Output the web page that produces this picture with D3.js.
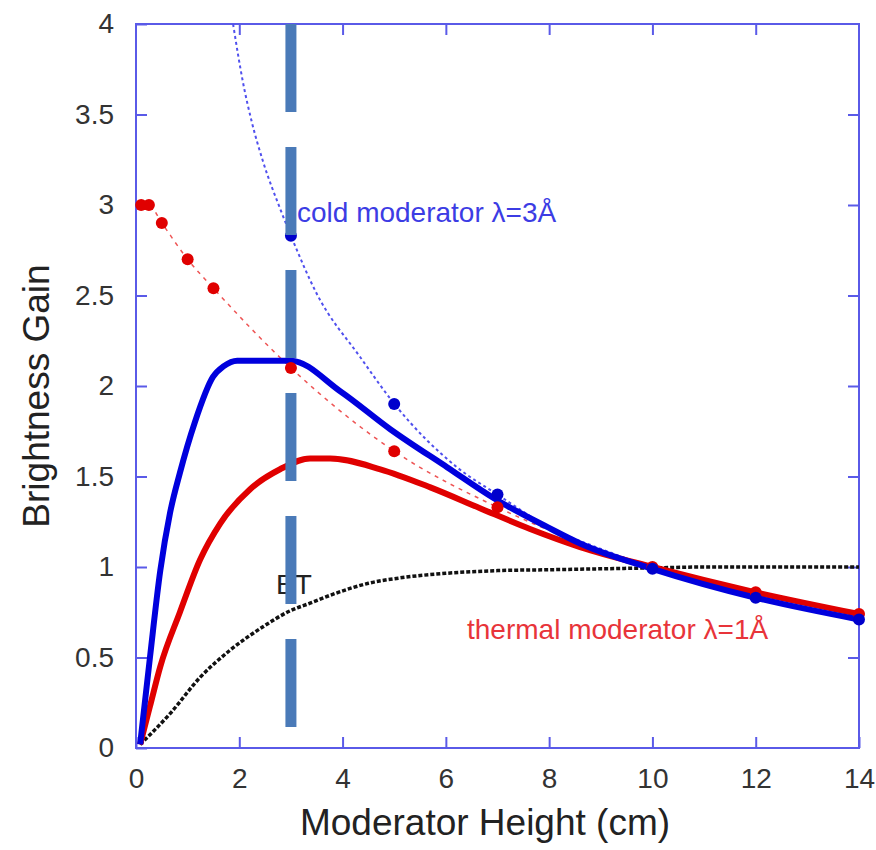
<!DOCTYPE html>
<html>
  <head>
    <meta charset="utf-8">
    <script src="https://d3js.org/d3.v7.min.js"></script>
    <style>
      body { margin: 0; background: #fff; }
      svg text { font-family: "Liberation Sans", Arial, sans-serif; }
      .axis path { display: none; }
      .axis line { stroke: #5a5ae8; stroke-width: 2; }
      .axis text { fill: #333; font-size: 28px; }
    </style>
  </head>
<body>
  <script type="text/javascript">
    // cold moderator brightness gain (thick blue)
    var coldX = [0.08, 0.27, 0.47, 0.66, 0.85, 1.14, 1.49, 1.7, 1.96, 2.5, 3.0, 3.96, 4.93, 6.03, 6.93, 7.97, 8.6, 10, 12, 14];
    var coldY = [0.02, 0.50, 0.98, 1.30, 1.52, 1.80, 2.05, 2.11, 2.14, 2.14, 2.14, 1.97, 1.76, 1.55, 1.38, 1.22, 1.13, 0.99, 0.83, 0.71];
    // thermal moderator brightness gain (thick red)
    var thermX = [0.08, 0.27, 0.47, 0.85, 1.24, 1.63, 2.21, 2.79, 3.37, 3.76, 4.73, 5.7, 6.66, 7.63, 8.6, 10, 12, 14];
    var thermY = [0.02, 0.23, 0.45, 0.75, 1.04, 1.24, 1.43, 1.54, 1.60, 1.60, 1.54, 1.44, 1.325, 1.21, 1.11, 1.00, 0.86, 0.74];
    // BT curve (black dotted)
    var btX = [0.08, 0.66, 1.24, 1.82, 2.46, 3.0, 3.37, 3.82, 4.5, 5.12, 6, 7, 8, 9, 10, 11, 12, 14];
    var btY = [0.02, 0.19, 0.39, 0.54, 0.67, 0.76, 0.80, 0.85, 0.91, 0.94, 0.965, 0.98, 0.985, 0.99, 0.995, 1.0, 1.0, 1.0];
    // thermal points and fit (red dots / dashed)
    var thermPtX = [0.1, 0.25, 0.5, 1, 1.5, 3, 5, 7, 10, 12, 14];
    var thermPtY = [3.0, 3.0, 2.9, 2.7, 2.54, 2.10, 1.64, 1.33, 1.0, 0.86, 0.74];
    // cold points (blue dots) and fit (blue dotted)
    var coldPtX = [3, 5, 7, 10, 12, 14];
    var coldPtY = [2.83, 1.90, 1.40, 0.99, 0.83, 0.71];
    var coldFitX = [1.88, 2.07, 2.25, 2.46, 2.79, 3, 3.5, 4.34, 5.02, 6.22, 7, 8, 9, 10, 11, 12, 13, 14];
    var coldFitY = [4.0, 3.68, 3.45, 3.24, 2.98, 2.83, 2.51, 2.16, 1.895, 1.55, 1.40, 1.22, 1.10, 1.00, 0.92, 0.84, 0.77, 0.71];
    // marker at 3 cm
    var markX = 3;

    var xTicks = [0, 2, 4, 6, 8, 10, 12, 14];
    var yTicks = [0, 0.5, 1, 1.5, 2, 2.5, 3, 3.5, 4];

    function draw() {
      var width = 876, height = 850;
      var pl = 136, pr = 859, pt = 24, pb = 748;

      var svg = d3.select("body").append("svg")
        .attr("width", width)
        .attr("height", height);

      var x = d3.scaleLinear().domain([0, 14]).range([pl, pr]);
      var y = d3.scaleLinear().domain([0, 4]).range([pb, pt]);

      function pts(xs, ys) {
        return xs.map(function(v, i) { return [v, ys[i]]; });
      }
      var line = d3.line()
        .x(function(d) { return x(d[0]); })
        .y(function(d) { return y(d[1]); })
        .curve(d3.curveMonotoneX);

      // axes, ticks pointing inward on all four sides
      var tickLen = 11;
      svg.append("g").attr("class", "axis")
        .attr("transform", "translate(0," + pb + ")")
        .call(d3.axisBottom(x).tickValues(xTicks).tickSize(-tickLen).tickPadding(20).tickFormat(d3.format("d")));
      svg.append("g").attr("class", "axis")
        .attr("transform", "translate(0," + pt + ")")
        .call(d3.axisTop(x).tickValues(xTicks.slice(1, -1)).tickSize(-tickLen).tickFormat(""));
      svg.append("g").attr("class", "axis")
        .attr("transform", "translate(" + pl + ",0)")
        .call(d3.axisLeft(y).tickValues(yTicks).tickSize(-tickLen).tickPadding(22).tickFormat(d3.format("")));
      svg.append("g").attr("class", "axis")
        .attr("transform", "translate(" + pr + ",0)")
        .call(d3.axisRight(y).tickValues(yTicks.slice(1, -1)).tickSize(-tickLen).tickFormat(""));

      svg.append("rect")
        .attr("x", pl).attr("y", pt)
        .attr("width", pr - pl).attr("height", pb - pt)
        .attr("fill", "none")
        .attr("stroke", "#5a5ae8")
        .attr("stroke-width", 2);

      // fits and curves
      svg.append("path").attr("d", line(pts(btX, btY)))
        .attr("fill", "none").attr("stroke", "#111").attr("stroke-width", 3.5)
        .attr("stroke-dasharray", "4,2");
      svg.append("path").attr("d", line(pts(thermPtX, thermPtY)))
        .attr("fill", "none").attr("stroke", "#ee5555").attr("stroke-width", 1.5)
        .attr("stroke-dasharray", "4,5");
      svg.append("path").attr("d", line(pts(coldFitX, coldFitY)))
        .attr("fill", "none").attr("stroke", "#5050ee").attr("stroke-width", 2)
        .attr("stroke-dasharray", "3,3");
      svg.append("path").attr("d", line(pts(thermX, thermY)))
        .attr("fill", "none").attr("stroke", "#e00000").attr("stroke-width", 6)
        .attr("stroke-linejoin", "round");
      svg.append("path").attr("d", line(pts(coldX, coldY)))
        .attr("fill", "none").attr("stroke", "#0000dd").attr("stroke-width", 6)
        .attr("stroke-linejoin", "round");

      svg.append("g").selectAll("circle")
        .data(pts(thermPtX, thermPtY))
        .enter().append("circle")
        .attr("cx", function(d) { return x(d[0]); })
        .attr("cy", function(d) { return y(d[1]); })
        .attr("r", 6)
        .attr("fill", "#e00000");
      svg.append("g").selectAll("circle")
        .data(pts(coldPtX, coldPtY))
        .enter().append("circle")
        .attr("cx", function(d) { return x(d[0]); })
        .attr("cy", function(d) { return y(d[1]); })
        .attr("r", 6)
        .attr("fill", "#0000cc");

      // labels
      svg.append("text")
        .attr("x", 297).attr("y", 222)
        .attr("font-size", 28).attr("fill", "#3c3ce4")
        .text("cold moderator \u03bb=3\u00c5");
      svg.append("text")
        .attr("x", 467).attr("y", 639)
        .attr("font-size", 28).attr("fill", "#e8343a")
        .text("thermal moderator \u03bb=1\u00c5");
      svg.append("text")
        .attr("x", 276).attr("y", 594)
        .attr("font-size", 28).attr("fill", "#222")
        .text("BT");

      // vertical dashed marker
      svg.append("line")
        .attr("x1", x(markX)).attr("x2", x(markX))
        .attr("y1", y(4)).attr("y2", y(0))
        .attr("stroke", "#4a7ab8").attr("stroke-width", 11)
        .attr("stroke-dasharray", "88,35");

      // axis titles
      svg.append("text")
        .attr("x", 485).attr("y", 835)
        .attr("text-anchor", "middle")
        .attr("font-size", 37).attr("fill", "#222")
        .text("Moderator Height (cm)");
      svg.append("text")
        .attr("transform", "translate(49,396)rotate(-90)")
        .attr("text-anchor", "middle")
        .attr("font-size", 37).attr("fill", "#222")
        .text("Brightness Gain");
    }
    draw();
  </script>
</body>
</html>
